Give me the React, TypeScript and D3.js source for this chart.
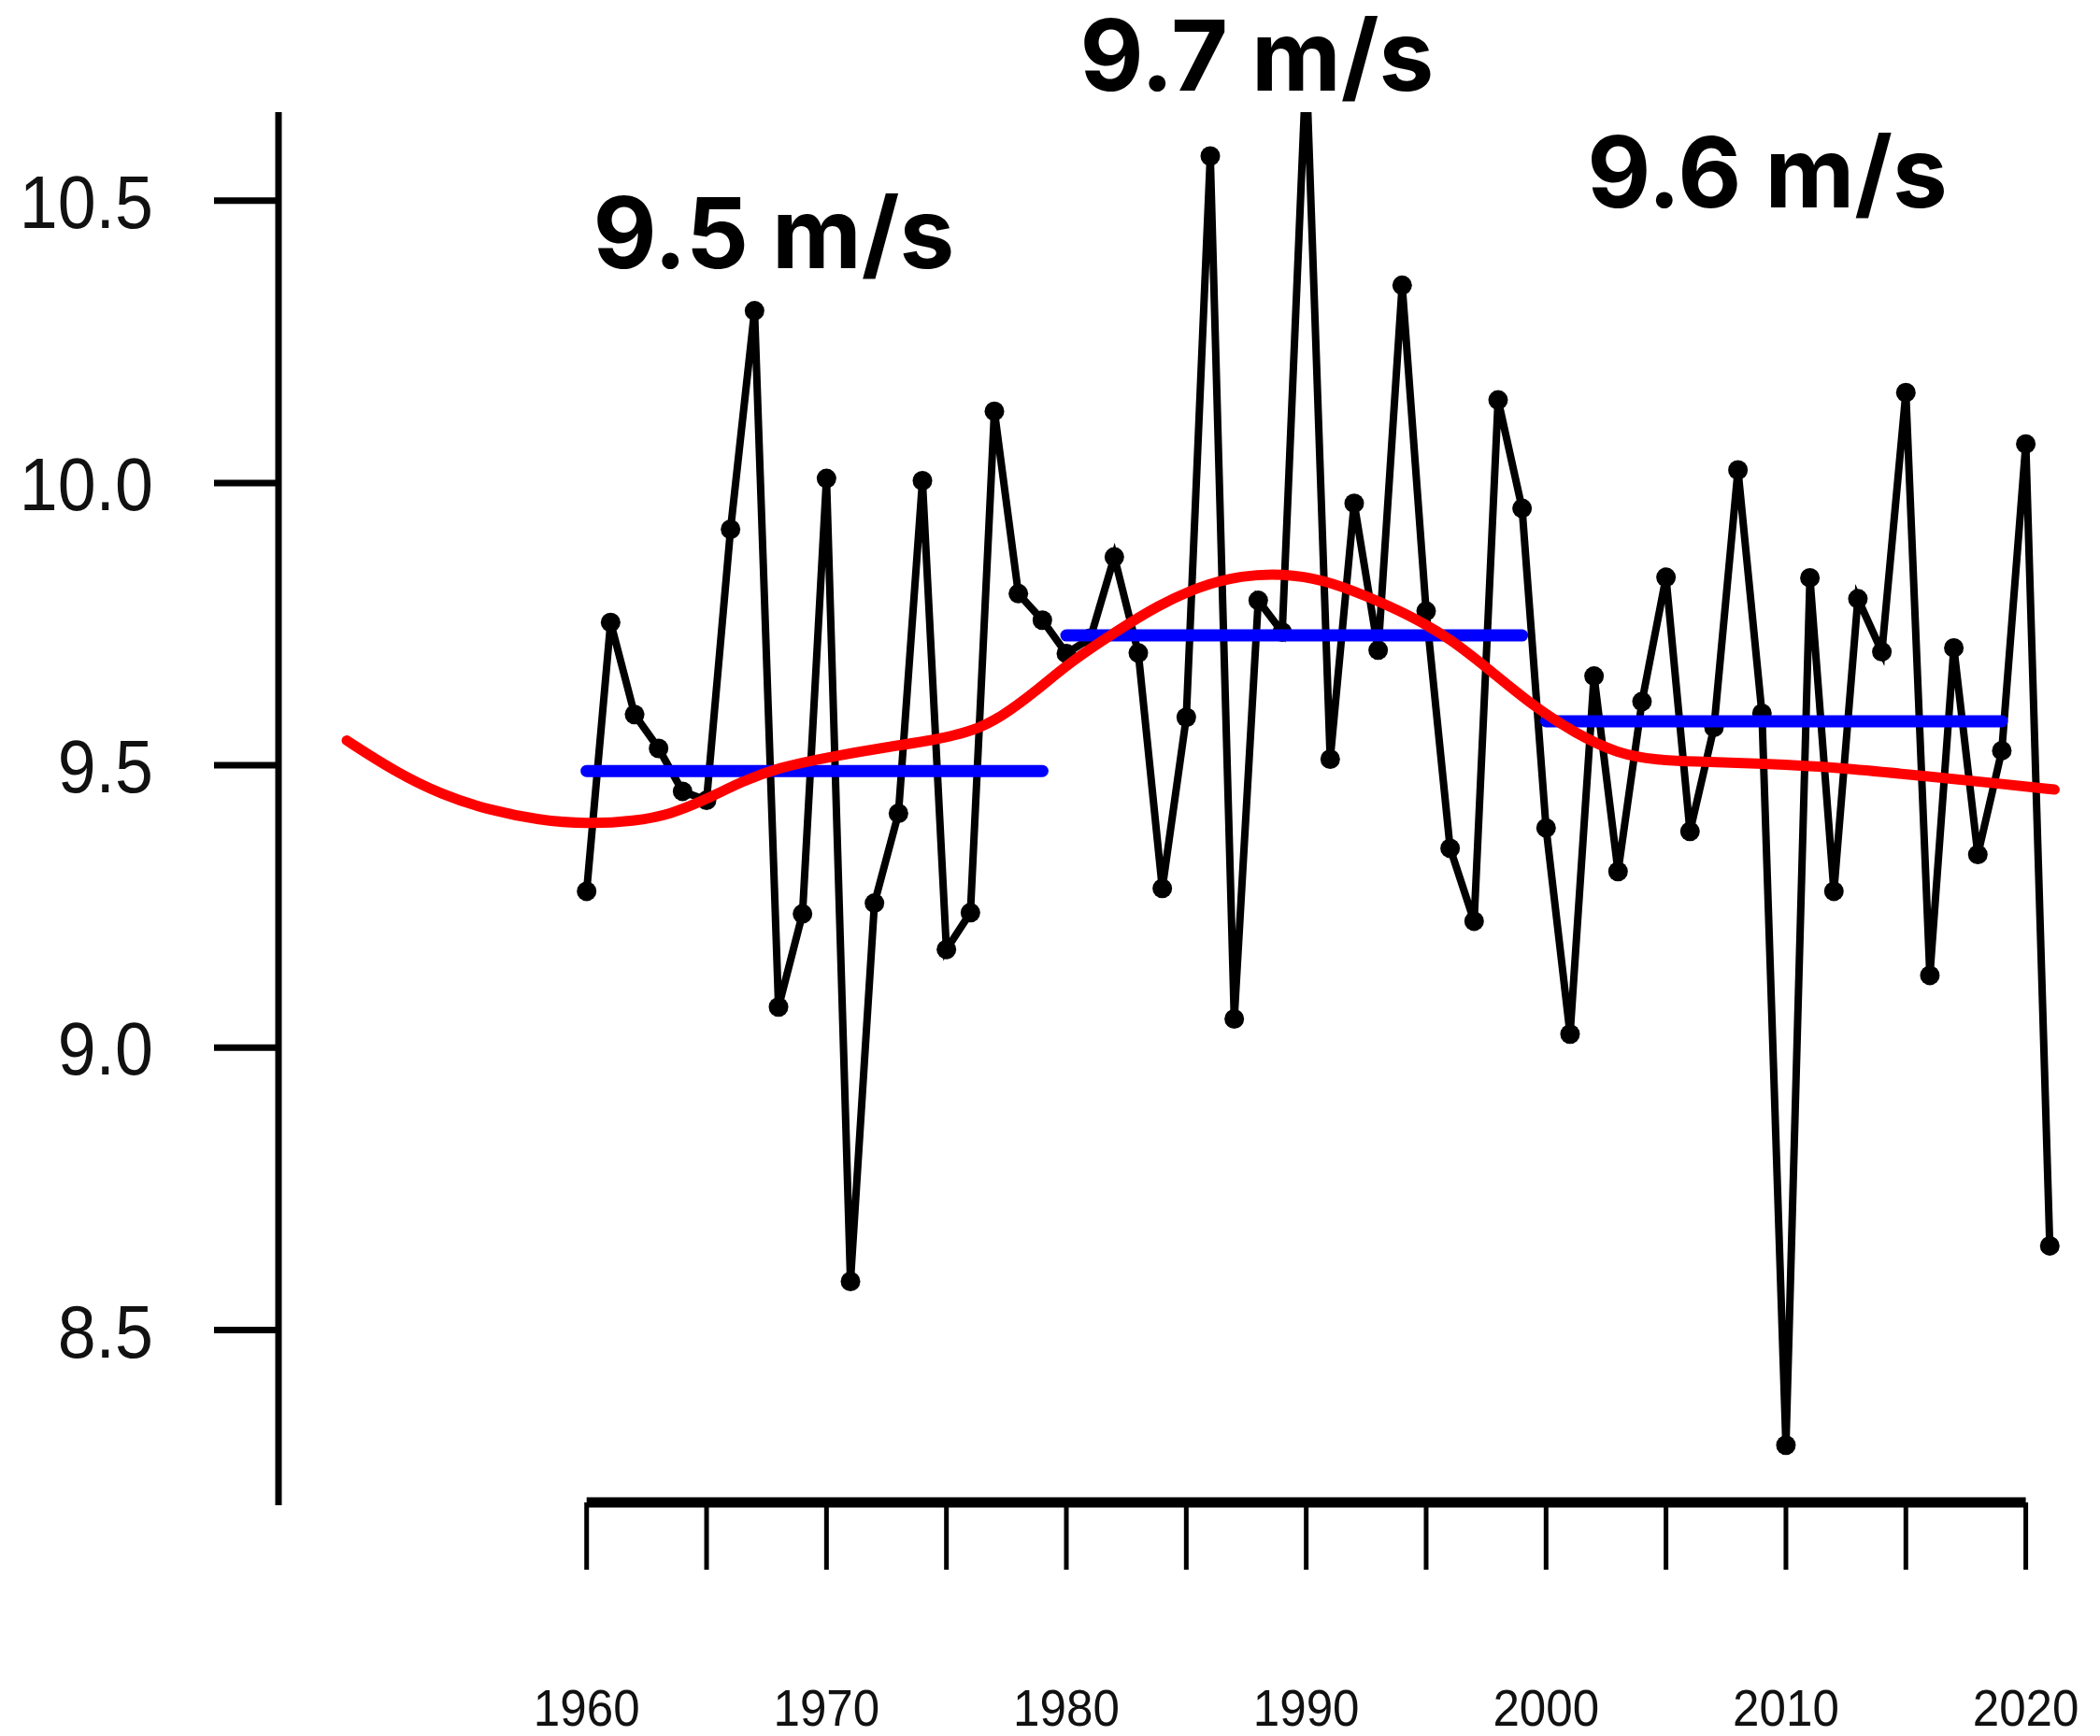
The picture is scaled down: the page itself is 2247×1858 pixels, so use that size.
import React from "react";
import * as d3 from "d3";

// ---- data ----
const years: number[] = d3.range(1960, 2022);
const windSpeed: number[] = [
  9.277, 9.753, 9.590, 9.530, 9.454, 9.438, 9.918, 10.305, 9.072, 9.237,
  10.008, 8.586, 9.256, 9.415, 10.004, 9.174, 9.239, 10.127, 9.804, 9.757,
  9.698, 9.725, 9.869, 9.699, 9.282, 9.585, 10.579, 9.051, 9.792, 9.736,
  10.74, 9.511, 9.964, 9.704, 10.350, 9.773, 9.353, 9.224, 10.147, 9.955,
  9.389, 9.024, 9.658, 9.312, 9.613, 9.833, 9.383, 9.567, 10.023, 9.592,
  8.296, 9.832, 9.277, 9.795, 9.701, 10.160, 9.128, 9.708, 9.342, 9.526,
  10.069, 8.649,
];

// smooth trend (red)
const trendYears: number[] = [
  1950, 1952, 1954, 1956, 1958, 1960, 1962, 1963.5, 1965, 1966.5, 1968, 1970,
  1972.6, 1974.4, 1976.1, 1977.3, 1978.7, 1980.1, 1982, 1983.8, 1985.6, 1987.3,
  1989, 1990.8, 1992.5, 1994.25, 1996, 1997.7, 1999.5, 2001.2, 2003, 2004.7,
  2006, 2009, 2012.3, 2015.5, 2018.8, 2021.2,
];
const trendValues: number[] = [
  9.544, 9.489, 9.447, 9.420, 9.403, 9.396, 9.401, 9.413, 9.440, 9.472, 9.496, 9.514,
  9.533, 9.544, 9.560, 9.586, 9.630, 9.681, 9.735, 9.783, 9.818, 9.836,
  9.840, 9.828, 9.800, 9.767, 9.725, 9.667, 9.604, 9.557, 9.520, 9.509,
  9.507, 9.503, 9.496, 9.482, 9.468, 9.457,
];

// period means (blue)
const periodStart: number[] = [1960, 1980, 2000];
const periodEnd: number[] = [1979, 1999, 2019];
const periodMean: number[] = [9.490, 9.730, 9.578];
const periodLabels: string[] = ["9.5 m/s", "9.7 m/s", "9.6 m/s"];

const yTicks: number[] = [8.5, 9.0, 9.5, 10.0, 10.5];
const yTickLabels: string[] = ["8.5", "9.0", "9.5", "10.0", "10.5"];
const xTicks: number[] = d3.range(1960, 2021, 5);
const xTickLabels: number[] = [1960, 1970, 1980, 1990, 2000, 2010, 2020];

export default function App() {
  const W = 2247, H = 1858;
  const x = d3.scaleLinear().domain([1960, 2020]).range([627.7, 2167.6]);
  const y = d3.scaleLinear().domain([8.5, 10.5]).range([1423.5, 214.7]);

  const axisX = 298;
  const axisBottom = 1608;
  const plotTop = 120;

  const pts = years.map((yr, i) => [yr, windSpeed[i]] as [number, number]);
  const dataLine = d3.line<[number, number]>().x(d => x(d[0])).y(d => y(d[1]))(pts) || "";
  const trendPts = trendYears.map((yr, i) => [yr, trendValues[i]] as [number, number]);
  const trendLine = d3
    .line<[number, number]>()
    .x(d => x(d[0]))
    .y(d => y(d[1]))
    .curve(d3.curveBasis)(trendPts) || "";

  const labelPos: [number, number][] = [
    [828, 287],
    [1345, 97],
    [1891, 222],
  ];

  return (
    <svg
      width={W}
      height={H}
      viewBox={`0 0 ${W} ${H}`}
      style={{ position: "absolute", left: 0, top: 0, display: "block", background: "#fff" }}
    >
      <defs>
        <clipPath id="plotClip">
          <rect x={axisX} y={plotTop} width={W - axisX} height={axisBottom - plotTop} />
        </clipPath>
      </defs>
      <rect x={0} y={0} width={W} height={H} fill="#fff" />

      {/* y axis */}
      <line x1={axisX} x2={axisX} y1={plotTop} y2={axisBottom + 3} stroke="#000" strokeWidth={7} />
      {yTicks.map((t, i) => (
        <g key={"yt" + i}>
          <line x1={229} x2={axisX} y1={y(t)} y2={y(t)} stroke="#000" strokeWidth={7} />
          <g transform={`translate(164, ${y(t) + 29}) scale(0.92, 1)`}>
            <text
              x={0}
              y={0}
              textAnchor="end"
              fontFamily="'Liberation Sans', Arial, Helvetica, sans-serif"
              fontSize={80}
              fill="#111"
            >
              {yTickLabels[i]}
            </text>
          </g>
        </g>
      ))}

      {/* x axis */}
      <line x1={x(1960)} x2={x(2020)} y1={axisBottom} y2={axisBottom} stroke="#000" strokeWidth={11} />
      {xTicks.map((t, i) => (
        <line key={"xt" + i} x1={x(t)} x2={x(t)} y1={axisBottom} y2={1680} stroke="#000" strokeWidth={5} />
      ))}
      {xTickLabels.map((t, i) => (
        <g key={"xl" + i} transform={`translate(${x(t)}, 1847) scale(0.93, 1)`}>
          <text
            x={0}
            y={0}
            textAnchor="middle"
            fontFamily="'Liberation Sans', Arial, Helvetica, sans-serif"
            fontSize={55}
            fill="#111"
          >
            {t}
          </text>
        </g>
      ))}

      <g clipPath="url(#plotClip)">
        {/* data line */}
        <path d={dataLine} fill="none" stroke="#000" strokeWidth={8} strokeLinejoin="miter" />
        {pts.map((d, i) => (
          <circle key={"p" + i} cx={x(d[0])} cy={y(d[1])} r={10.5} fill="#000" />
        ))}
        {/* period means */}
        {periodMean.map((m, i) => (
          <line
            key={"pm" + i}
            x1={x(periodStart[i])}
            x2={x(periodEnd[i])}
            y1={y(m)}
            y2={y(m)}
            stroke="#0000ff"
            strokeWidth={13}
            strokeLinecap="round"
          />
        ))}
        {/* smooth trend */}
        <path d={trendLine} fill="none" stroke="#ff0000" strokeWidth={11} strokeLinecap="round" />
      </g>

      {/* period labels */}
      {periodLabels.map((lab, i) => (
        <text
          key={"lab" + i}
          x={labelPos[i][0]}
          y={labelPos[i][1]}
          textAnchor="middle"
          fontFamily="Inter, 'Open Sans', sans-serif"
          fontWeight={700}
          fontSize={105}
          fill="#000"
        >
          {lab}
        </text>
      ))}
    </svg>
  );
}
